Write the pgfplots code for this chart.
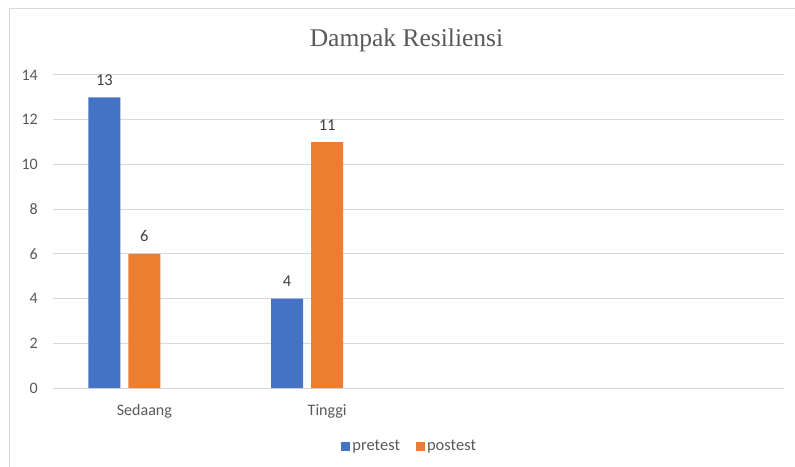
\documentclass[border=0pt]{standalone}
\usepackage{pgfplots}
\pgfplotsset{compat=1.18}
\usepackage{fontspec}
\setmainfont{Carlito}
\newfontfamily\titlefont{Liberation Serif}
\definecolor{cblue}{HTML}{4472C4}
\definecolor{corange}{HTML}{ED7D31}
\definecolor{tgray}{HTML}{595959}
\definecolor{lgray}{HTML}{404040}
\definecolor{cgrid}{HTML}{D9D9D9}
\begin{document}
\begin{tikzpicture}
\path[use as bounding box] (0pt,0pt) rectangle (795pt,466pt);
\draw[cgrid, line width=1pt] (9pt,-10pt) -- (9pt,457pt) -- (810pt,457pt);
\node[font=\titlefont\fontsize{25.5}{30}\selectfont, text=tgray, anchor=base, inner sep=0pt] at (406.5pt,419pt) {Dampak Resiliensi};
\begin{axis}[
  at={(53pt,78pt)}, anchor=south west,
  scale only axis, width=731pt, height=313pt,
  xmin=-0.5, xmax=3.5, ymin=0, ymax=14,
  ytick={0,2,...,14},
  xtick={0,1}, xticklabels={Sedaang,Tinggi},
  major tick length=0pt,
  axis line style={draw=none},
  ymajorgrids=true, xmajorgrids=false,
  major grid style={draw=cgrid, line width=1pt},
  /pgf/number format/assume math mode=true,
  ticklabel style={font=\fontsize{16}{19}\selectfont, text=tgray, inner sep=0pt},
  yticklabel style={anchor=east, xshift=-15pt},
  xticklabel style={anchor=base, yshift=-27pt},
  ybar, bar width=32pt,
  nodes near coords,
  every node near coord/.append style={font=\fontsize{16.5}{19}\selectfont, text=lgray, anchor=base, inner sep=0pt, yshift=12pt},
  legend columns=2,
  legend style={at={(0.488,-0.187)}, anchor=center, draw=none, fill=none,
    font=\fontsize{16.5}{19}\selectfont, text=tgray,
    /tikz/every even column/.append style={column sep=14pt},
    nodes={inner sep=2pt}},
  legend image code/.code={\fill[#1] (0pt,-4.5pt) rectangle (9pt,4.5pt);},
]
\addplot[fill=cblue, draw=none, bar shift=-40pt] coordinates {(0,13) (1,4)};
\addplot[fill=corange, draw=none, bar shift=0pt] coordinates {(0,6) (1,11)};
\legend{pretest,postest}
\end{axis}
\end{tikzpicture}
\end{document}
